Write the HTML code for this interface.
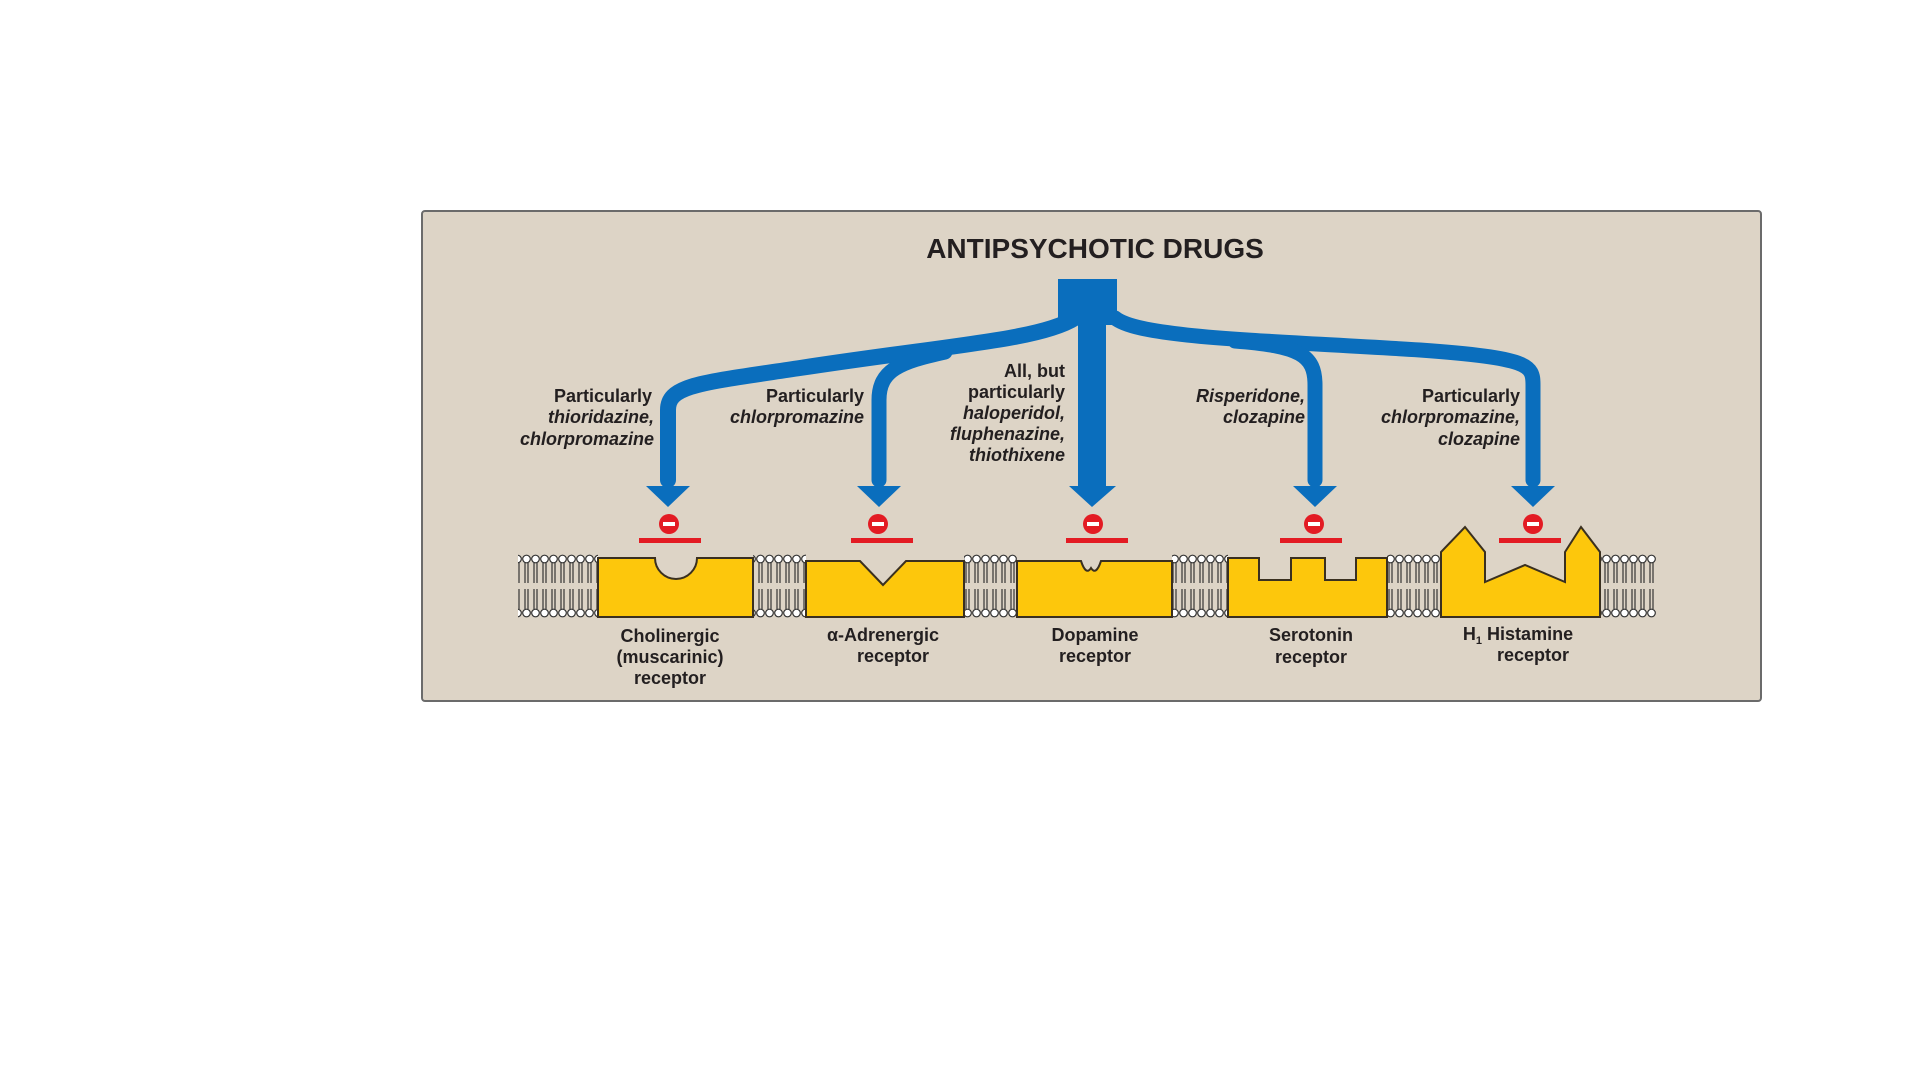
<!DOCTYPE html>
<html><head><meta charset="utf-8"><style>
html,body{margin:0;padding:0;background:#fff;}
svg{display:block;}
text{font-family:"Liberation Sans Narrow","Liberation Sans",sans-serif;font-weight:bold;fill:#231f20;}
.it{font-style:italic;}
</style></head><body>
<svg width="1920" height="1080" viewBox="0 0 1920 1080" xmlns="http://www.w3.org/2000/svg">
<defs>
<pattern id="lip" x="0" y="554" width="9" height="64" patternUnits="userSpaceOnUse">
<circle cx="4.5" cy="5" r="3.8" fill="#fff" stroke="#333" stroke-width="1.2"/>
<line x1="3" y1="9" x2="3" y2="29" stroke="#333" stroke-width="1.2"/>
<line x1="6" y1="9" x2="6" y2="29" stroke="#333" stroke-width="1.2"/>
<line x1="3" y1="35" x2="3" y2="55" stroke="#333" stroke-width="1.2"/>
<line x1="6" y1="35" x2="6" y2="55" stroke="#333" stroke-width="1.2"/>
<circle cx="4.5" cy="59" r="3.8" fill="#fff" stroke="#333" stroke-width="1.2"/>
</pattern>
</defs>
<rect x="422" y="211" width="1339" height="490" rx="3" fill="#ddd4c6" stroke="#6b6b6b" stroke-width="2"/>
<text x="1095" y="258" text-anchor="middle" font-size="28">ANTIPSYCHOTIC DRUGS</text>

<!-- blue arrows -->
<g fill="none" stroke="#0a6ebd" stroke-linejoin="round" stroke-linecap="round">
<path d="M1075 318 C1040 340 950 345 800 368 C700 383 668 385 668 410 L668 480" stroke-width="16"/>
<path d="M945 352 C900 362 879 370 879 400 L879 480" stroke-width="15"/>
<path d="M1115 318 C1140 338 1260 340 1420 350 C1530 358 1533 365 1533 385 L1533 480" stroke-width="15"/>
<path d="M1235 341 C1300 346 1315 355 1315 385 L1315 480" stroke-width="15"/>
<path d="M1092 320 L1092 490" stroke-width="28" stroke-linecap="butt"/>
</g>
<rect x="1058" y="279" width="59" height="46" fill="#0a6ebd"/>
<g fill="#0a6ebd">
<polygon points="646,486 690,486 668,507"/>
<polygon points="857,486 901,486 879,507"/>
<polygon points="1069,486 1116,486 1092,507"/>
<polygon points="1293,486 1337,486 1315,507"/>
<polygon points="1511,486 1555,486 1533,507"/>
</g>
<!-- inhibition -->
<g fill="#e31b23">
<circle cx="669" cy="524" r="10"/><rect x="639" y="538" width="62" height="5"/>
<circle cx="878" cy="524" r="10"/><rect x="851" y="538" width="62" height="5"/>
<circle cx="1093" cy="524" r="10"/><rect x="1066" y="538" width="62" height="5"/>
<circle cx="1314" cy="524" r="10"/><rect x="1280" y="538" width="62" height="5"/>
<circle cx="1533" cy="524" r="10"/><rect x="1499" y="538" width="62" height="5"/>
</g>
<g fill="#fff">
<rect x="663" y="522" width="12" height="4"/><rect x="872" y="522" width="12" height="4"/>
<rect x="1087" y="522" width="12" height="4"/><rect x="1308" y="522" width="12" height="4"/>
<rect x="1527" y="522" width="12" height="4"/>
</g>
<!-- lipids -->
<g fill="url(#lip)">
<rect x="518" y="554" width="80" height="64"/>
<rect x="753" y="554" width="53" height="64"/>
<rect x="964" y="554" width="53" height="64"/>
<rect x="1172" y="554" width="56" height="64"/>
<rect x="1387" y="554" width="54" height="64"/>
<rect x="1600" y="554" width="56" height="64"/>
</g>
<!-- receptors -->
<g fill="#fdc70c" stroke="#3a3020" stroke-width="2" stroke-linejoin="miter">
<path d="M598 617 L598 558 L655 558 A21 21 0 0 0 697 558 L753 558 L753 617 Z"/>
<path d="M806 617 L806 561 L860 561 L883 585 L906 561 L964 561 L964 617 Z"/>
<path d="M1017 617 L1017 561 L1081 561 Q1086 576 1091 568 Q1096 576 1101 561 L1172 561 L1172 617 Z"/>
<path d="M1228 617 L1228 558 L1259 558 L1259 580 L1291 580 L1291 558 L1325 558 L1325 580 L1356 580 L1356 558 L1387 558 L1387 617 Z"/>
<path d="M1441 617 L1441 552 L1465 527 L1485 552 L1485 582 L1525 565 L1565 582 L1565 552 L1581 527 L1600 552 L1600 617 Z"/>
</g>
<!-- receptor labels -->
<g font-size="18" text-anchor="middle">
<text x="670" y="642">Cholinergic</text>
<text x="670" y="663">(muscarinic)</text>
<text x="670" y="684">receptor</text>
<text x="883" y="641">α-Adrenergic</text>
<text x="893" y="662">receptor</text>
<text x="1095" y="641">Dopamine</text>
<text x="1095" y="662">receptor</text>
<text x="1311" y="641">Serotonin</text>
<text x="1311" y="663">receptor</text>
<text x="1518" y="640">H<tspan font-size="11" dy="4">1</tspan><tspan dy="-4">  Histamine</tspan></text>
<text x="1533" y="661">receptor</text>
</g>
<!-- drug labels -->
<g font-size="18" text-anchor="end">
<text x="652" y="402">Particularly</text>
<text x="654" y="423" class="it">thioridazine,</text>
<text x="654" y="445" class="it">chlorpromazine</text>
<text x="864" y="402">Particularly</text>
<text x="864" y="423" class="it">chlorpromazine</text>
<text x="1065" y="377">All, but</text>
<text x="1065" y="398">particularly</text>
<text x="1065" y="419" class="it">haloperidol,</text>
<text x="1065" y="440" class="it">fluphenazine,</text>
<text x="1065" y="461" class="it">thiothixene</text>
<text x="1305" y="402" class="it">Risperidone,</text>
<text x="1305" y="423" class="it">clozapine</text>
<text x="1520" y="402">Particularly</text>
<text x="1520" y="423" class="it">chlorpromazine,</text>
<text x="1520" y="445" class="it">clozapine</text>
</g>
</svg>
</body></html>
